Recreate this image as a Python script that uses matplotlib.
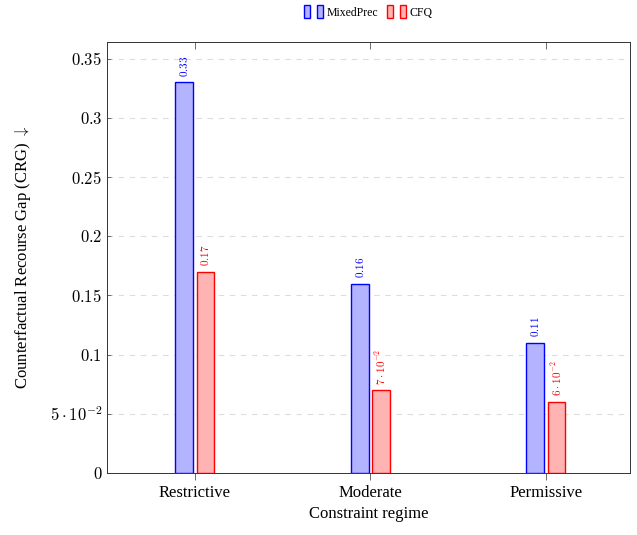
import numpy as np
import matplotlib
matplotlib.use("Agg")
import matplotlib.pyplot as plt
from matplotlib.patches import Rectangle
from matplotlib.legend_handler import HandlerTuple

plt.rcParams['font.family'] = 'serif'
plt.rcParams['font.serif'] = ['Liberation Serif', 'DejaVu Serif']
plt.rcParams['mathtext.fontset'] = 'cm'
plt.rcParams['axes.unicode_minus'] = False

regimes = ['Restrictive', 'Moderate', 'Permissive']
mixedprec = [0.33, 0.16, 0.11]
cfq = [0.17, 0.07, 0.06]
mixedprec_labels = ['$0.33$', '$0.16$', '$0.11$']
cfq_labels = ['$0.17$', r'$7\cdot10^{-2}$', r'$6\cdot10^{-2}$']
yticks = [0, 0.05, 0.1, 0.15, 0.2, 0.25, 0.3, 0.35]
ytick_labels = ['$0$', r'$5\cdot10^{-2}$', '$0.1$', '$0.15$', '$0.2$', '$0.25$', '$0.3$', '$0.35$']

blue_fill, blue_edge = '#b3b3ff', '#0000ff'
red_fill, red_edge = '#ffb3b3', '#ff0000'

fig = plt.figure(figsize=(6.37, 5.35), dpi=100)
ax = fig.add_axes([0.168, 0.116, 0.821, 0.805])

x = np.arange(len(regimes))
w = 0.1
off = 0.06
ax.bar(x - off, mixedprec, w, color=blue_fill, edgecolor=blue_edge, linewidth=1)
ax.bar(x + off, cfq, w, color=red_fill, edgecolor=red_edge, linewidth=1)

# value labels above each bar, rotated
for xi, v, s in zip(x - off, mixedprec, mixedprec_labels):
    ax.annotate(s, (xi, v), xytext=(0, 4), textcoords='offset points',
                rotation=90, ha='center', va='bottom', color=blue_edge, fontsize=8)
for xi, v, s in zip(x + off, cfq, cfq_labels):
    ax.annotate(s, (xi, v), xytext=(0, 4), textcoords='offset points',
                rotation=90, ha='center', va='bottom', color=red_edge, fontsize=8)

ax.set_xlim(-0.5, 2.48)
ax.set_ylim(0, 0.364)
ax.set_xticks(x)
ax.set_xticklabels(regimes, fontsize=12)
ax.set_yticks(yticks)
ax.set_yticklabels(ytick_labels, fontsize=12)
ax.tick_params(axis='x', direction='out', length=5, width=0.6, color='#555555')
ax.tick_params(axis='y', direction='in', length=3, width=0.6, color='#555555')

# top ticks point inward
top = ax.secondary_xaxis('top')
top.set_xticks(x)
top.set_xticklabels([])
top.tick_params(direction='in', length=5, width=0.6, color='#555555')
top.spines['top'].set_visible(False)

ax.yaxis.grid(True, linestyle=(0, (5, 5)), color='#dddddd', linewidth=0.8)
ax.set_axisbelow(True)
for sp in ax.spines.values():
    sp.set_linewidth(0.7)
    sp.set_color('#333333')

ax.set_xlabel('Constraint regime', fontsize=12)
ax.set_ylabel(r'Counterfactual Recourse Gap (CRG) $\downarrow$', fontsize=12, labelpad=12)

h1 = (Rectangle((0, 0), 1, 1, fc=blue_fill, ec=blue_edge), Rectangle((0, 0), 1, 1, fc=blue_fill, ec=blue_edge))
h2 = (Rectangle((0, 0), 1, 1, fc=red_fill, ec=red_edge), Rectangle((0, 0), 1, 1, fc=red_fill, ec=red_edge))
fig.legend([h1, h2], ['MixedPrec', 'CFQ'], loc='upper center', bbox_to_anchor=(0.578, 1.01),
           ncol=2, frameon=False, fontsize=8.5, handlelength=1.6, handleheight=1.3,
           handletextpad=0.3, columnspacing=0.8,
           handler_map={tuple: HandlerTuple(ndivide=2, pad=0.6)})

fig.savefig('out.png', dpi=100)
